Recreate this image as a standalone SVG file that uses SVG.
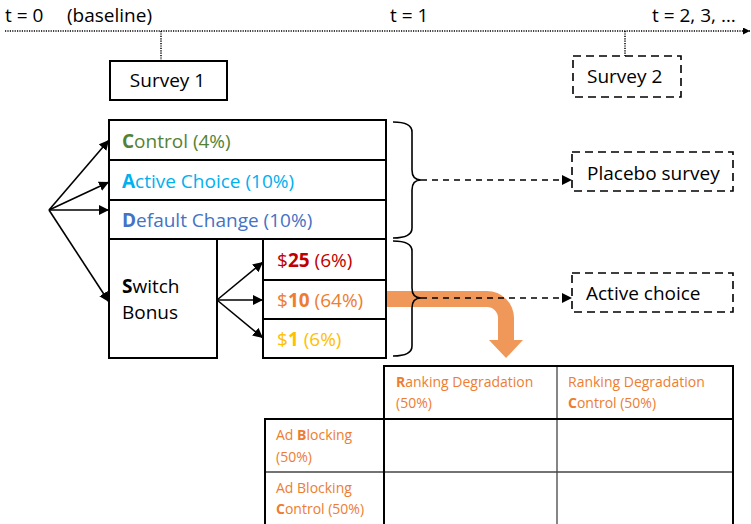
<svg xmlns="http://www.w3.org/2000/svg" width="751" height="524" viewBox="0 0 751 524">
<defs>
<style>
text{font-family:"Open Sans","Liberation Sans",sans-serif;fill:#000}
.m{font-size:19px}
.t{font-size:14px;fill:#ED7D31}
.box{fill:#fff;stroke:#000;stroke-width:2}
.dbox{fill:#fff;stroke:#000;stroke-width:1.6;stroke-dasharray:8 5}
.dot{stroke:#000;stroke-width:1.5;stroke-dasharray:1.2 1.2;fill:none}
.ln{stroke:#000;stroke-width:1.6;fill:none}
.b{font-weight:bold}
</style>
<marker id="ah" viewBox="0 0 10 10" refX="10" refY="5" markerWidth="10" markerHeight="10" markerUnits="userSpaceOnUse" orient="auto"><path d="M0,0 L10,5 L0,10 Z" fill="#000"/></marker>
<marker id="ah2" viewBox="0 0 10 10" refX="10" refY="5" markerWidth="7" markerHeight="7" markerUnits="userSpaceOnUse" orient="auto"><path d="M0,0 L10,5 L0,10 Z" fill="#000"/></marker>
</defs>
<rect width="751" height="524" fill="#fff"/>

<g id="timeline">
<line class="dot" x1="5" y1="31" x2="750" y2="31" marker-end="url(#ah2)"/>
<text class="m" x="5" y="22">t = 0<tspan x="67">(baseline)</tspan></text>
<text class="m" x="390" y="22">t = 1</text>
<text class="m" x="652" y="22">t = 2, 3, …</text>
<line class="dot" x1="161" y1="31" x2="161" y2="61"/>
<line class="dot" x1="625" y1="31" x2="625" y2="56"/>
</g>

<g id="survey1">
<rect class="box" x="110" y="61" width="117" height="39"/>
<text class="m" x="167.5" y="87" text-anchor="middle">Survey 1</text>
</g>
<g id="survey2">
<rect class="dbox" x="573" y="56" width="108" height="41"/>
<text class="m" x="587" y="83">Survey 2</text>
</g>

<g id="orange-arrow">
<path d="M386,291 L487,291 A27,27 0 0 1 514,318 L514,340 L523,340 L506,358 L489,340 L498,340 L498,318 A11,11 0 0 0 487,307 L386,307 Z" fill="#F0985A"/>
</g>

<g id="control">
<rect class="box" x="109" y="120" width="277" height="40"/>
<text class="m" x="122" y="148" style="fill:#548235"><tspan class="b">C</tspan>ontrol (4%)</text>
</g>
<g id="active-choice-arm">
<rect class="box" x="109" y="160" width="277" height="40"/>
<text class="m" x="122" y="188" style="fill:#00B0F0"><tspan class="b">A</tspan>ctive Choice (10%)</text>
</g>
<g id="default-change">
<rect class="box" x="109" y="200" width="277" height="39"/>
<text class="m" x="122" y="227" style="fill:#4472C4"><tspan class="b">D</tspan>efault Change (10%)</text>
</g>
<g id="switch-bonus">
<rect class="box" x="109" y="239" width="108" height="119"/>
<text class="m" x="122" y="293"><tspan class="b">S</tspan>witch</text>
<text class="m" x="122" y="319">Bonus</text>
</g>
<g id="bonus25">
<rect class="box" x="263" y="239" width="123" height="41"/>
<text class="m" x="277" y="267" style="fill:#C00000">$<tspan class="b">25</tspan> (6%)</text>
</g>
<g id="bonus10">
<rect class="box" x="263" y="280" width="123" height="39"/>
<text class="m" x="277" y="307" style="fill:#ED7D31">$<tspan class="b">10</tspan> (64%)</text>
</g>
<g id="bonus1">
<rect class="box" x="263" y="319" width="123" height="39"/>
<text class="m" x="277" y="346" style="fill:#FFC000">$<tspan class="b">1</tspan> (6%)</text>
</g>

<g id="braces">
<path class="ln" d="M393,122 Q412,122 412,132 L412,170 Q412,180 421,180 Q412,180 412,190 L412,228 Q412,238 393,238"/>
<path class="ln" d="M393,241 Q412,241 412,251 L412,288 Q412,298 421,298 Q412,298 412,308 L412,346 Q412,356 393,356"/>
</g>

<g id="placebo">
<rect class="dbox" x="572" y="152" width="161" height="39"/>
<text class="m" x="587" y="180">Placebo survey</text>
</g>
<g id="active-choice">
<rect class="dbox" x="572" y="273" width="161" height="39"/>
<text class="m" x="586" y="300">Active choice</text>
</g>

<g id="connectors">
<line class="ln" x1="49" y1="210" x2="109" y2="140" marker-end="url(#ah)"/>
<line class="ln" x1="49" y1="210" x2="109" y2="182" marker-end="url(#ah)"/>
<line class="ln" x1="49" y1="210" x2="109" y2="210" marker-end="url(#ah)"/>
<line class="ln" x1="49" y1="210" x2="109" y2="302" marker-end="url(#ah)"/>
<line class="ln" x1="217" y1="300" x2="263" y2="262" marker-end="url(#ah)"/>
<line class="ln" x1="217" y1="300" x2="263" y2="300" marker-end="url(#ah)"/>
<line class="ln" x1="217" y1="300" x2="263" y2="338" marker-end="url(#ah)"/>
<line x1="421" y1="180" x2="572" y2="180" stroke="#000" stroke-width="1.6" stroke-dasharray="6 5" marker-end="url(#ah)"/>
<line x1="421" y1="298" x2="572" y2="298" stroke="#000" stroke-width="1.6" stroke-dasharray="6 5" marker-end="url(#ah)"/>
</g>

<g id="table">
<line x1="557" y1="366" x2="557" y2="524" stroke="#444" stroke-width="1.3"/>
<line x1="265" y1="472" x2="733" y2="472" stroke="#444" stroke-width="1.3"/>
<path d="M384,524 L384,366 L733,366 L733,524" fill="none" stroke="#000" stroke-width="2"/>
<path d="M265,524 L265,419 L733,419" fill="none" stroke="#000" stroke-width="2"/>
<text class="t" x="396" y="387"><tspan class="b">R</tspan>anking Degradation</text>
<text class="t" x="396" y="408">(50%)</text>
<text class="t" x="568" y="387">Ranking Degradation</text>
<text class="t" x="568" y="408"><tspan class="b">C</tspan>ontrol (50%)</text>
<text class="t" x="276" y="440">Ad <tspan class="b">B</tspan>locking</text>
<text class="t" x="276" y="462">(50%)</text>
<text class="t" x="276" y="493">Ad Blocking</text>
<text class="t" x="276" y="514"><tspan class="b">C</tspan>ontrol (50%)</text>
</g>
</svg>
